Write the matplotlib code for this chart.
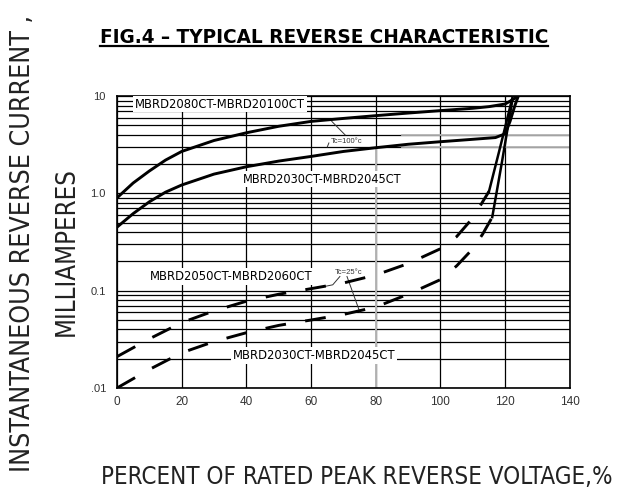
import os
import matplotlib
matplotlib.use("Agg")
import matplotlib.pyplot as plt
from matplotlib import font_manager
from matplotlib.font_manager import FontProperties
from matplotlib.ticker import LogLocator, NullFormatter

# ---------------- data ----------------
x_ticks = [0, 20, 40, 60, 80, 100, 120, 140]
x_tick_labels = ["0", "20", "40", "60", "80", "100", "120", "140"]
y_ticks = [0.01, 0.1, 1.0, 10.0]
y_tick_labels = [".01", "0.1", "1.0", "10"]

# Tc = 100 C, MBRD2080CT-MBRD20100CT
hot_hi_x = [0, 5, 10, 15, 20, 30, 40, 50, 60, 70, 80, 90, 100, 110, 115, 120, 123, 126]
hot_hi_y = [0.9, 1.28, 1.7, 2.2, 2.7, 3.5, 4.2, 4.9, 5.5, 5.9, 6.3, 6.7, 7.1, 7.5, 7.8, 8.3, 9.5, 11.5]

# Tc = 100 C, MBRD2030CT-MBRD2045CT
hot_lo_x = [0, 5, 10, 15, 20, 30, 40, 50, 60, 70, 80, 90, 100, 110, 117, 120, 121.5, 123, 124.5]
hot_lo_y = [0.45, 0.62, 0.82, 1.03, 1.22, 1.58, 1.88, 2.15, 2.4, 2.7, 2.95, 3.2, 3.4, 3.6, 3.75, 4.1, 5.5, 8.0, 11.0]

# Tc = 25 C, MBRD2050CT-MBRD2060CT
cold_hi_x = [0, 10, 20, 30, 40, 50, 60, 70, 80, 90, 100, 105, 110, 115, 118, 120, 122.5]
cold_hi_y = [0.021, 0.032, 0.047, 0.062, 0.078, 0.092, 0.105, 0.12, 0.145, 0.19, 0.27, 0.36, 0.56, 1.05, 2.6, 4.8, 10.5]

# Tc = 25 C, MBRD2030CT-MBRD2045CT
cold_lo_x = [0, 10, 20, 30, 40, 50, 60, 70, 80, 90, 100, 105, 110, 113, 116, 119, 122.2]
cold_lo_y = [0.01, 0.0155, 0.023, 0.03, 0.037, 0.044, 0.05, 0.057, 0.068, 0.092, 0.13, 0.18, 0.27, 0.38, 0.57, 2.1, 9.0]

label_hot_hi = "MBRD2080CT-MBRD20100CT"
label_hot_lo = "MBRD2030CT-MBRD2045CT"
label_cold_hi = "MBRD2050CT-MBRD2060CT"
label_cold_lo = "MBRD2030CT-MBRD2045CT"
tc_hot = "Tc=100°c"
tc_cold = "Tc=25°c"

title = "FIG.4 \u2013 TYPICAL REVERSE CHARACTERISTIC"
xlabel = "PERCENT OF RATED PEAK REVERSE VOLTAGE,%"
ylabel1 = "INSTANTANEOUS REVERSE CURRENT ,"
ylabel2 = "MILLIAMPERES"


# ---------------- fonts ----------------
def _isbold(f):
    w = f.weight
    if isinstance(w, str):
        return w in ("bold", "heavy", "black", "semibold", "demibold", "extra bold")
    return w >= 600


def _condensed(f):
    base = os.path.basename(f.fname).lower()
    return ("narrow" in base or "condensed" in base or "narrow" in f.name.lower()
            or "condensed" in f.name.lower() or str(f.stretch) in ("condensed", "semi-condensed"))


def find_font(bold):
    pref = ["liberation sans narrow", "liberation", "dejavu sans", "noto sans", "roboto", "open sans"]
    cands = [f for f in font_manager.fontManager.ttflist
             if _condensed(f) and _isbold(f) == bold and f.style == "normal"
             and "mono" not in f.name.lower() and "serif" not in f.name.lower().replace("sans", "")]
    for p in pref:
        for f in cands:
            if p in f.name.lower() or p.replace(" ", "") in os.path.basename(f.fname).lower():
                return FontProperties(fname=f.fname)
    if cands:
        return FontProperties(fname=cands[0].fname)
    return FontProperties(family=["Liberation Sans", "DejaVu Sans"], weight="bold" if bold else "normal")


FP_REG = find_font(False)
FP_BOLD = find_font(True)

plt.rcParams["font.family"] = ["Liberation Sans", "DejaVu Sans"]
plt.rcParams["lines.scale_dashes"] = False

fig = plt.figure(figsize=(6.29, 4.93), dpi=100)
ax = fig.add_axes([0.186, 0.213, 0.720, 0.592])
ax.set_yscale("log")
ax.set_xlim(0, 140)
ax.set_ylim(0.01, 10)
ax.set_xticks(x_ticks)
ax.set_xticklabels(x_tick_labels, fontsize=8.5, color="#333333")
ax.set_yticks(y_ticks)
ax.set_yticklabels(y_tick_labels, fontsize=8, color="#333333")
ax.yaxis.set_minor_locator(LogLocator(base=10, subs=range(2, 10)))
ax.yaxis.set_minor_formatter(NullFormatter())
ax.tick_params(which="both", length=0)
ax.tick_params(axis="x", pad=6)
ax.tick_params(axis="y", pad=8)
ax.grid(which="both", axis="y", color="black", lw=0.9, zorder=1)
ax.grid(which="major", axis="x", color="black", lw=0.9, zorder=1)
ax.set_axisbelow(True)
for s in ax.spines.values():
    s.set_linewidth(1.2)
    s.set_color("black")

# faint scan lines
ax.plot([80, 80], [0.01, 2.9], color="#b5b5b5", lw=1.4, zorder=1.5)
for yv in (3.0, 4.0):
    ax.plot([88, 140], [yv, yv], color="#b5b5b5", lw=1.3, zorder=1.5)

LW = 2.1
ax.plot(hot_hi_x, hot_hi_y, color="black", lw=LW, zorder=4, solid_capstyle="round")
ax.plot(hot_lo_x, hot_lo_y, color="black", lw=LW, zorder=4, solid_capstyle="round")

dash = (0, (15, 14))
for xs, ys, brk in ((cold_hi_x, cold_hi_y, 115), (cold_lo_x, cold_lo_y, 116)):
    k = xs.index(brk)
    ax.plot(xs[:k + 1], ys[:k + 1], color="black", lw=LW, ls=dash, zorder=4)
    ax.plot(xs[k:], ys[k:], color="black", lw=LW - 0.3, zorder=4)

box = dict(facecolor="white", edgecolor="none", pad=1.0)
curve_labels = [
    (label_hot_hi, 31.8, 8.3, 170),
    (label_hot_lo, 63.3, 1.4, 160),
    (label_cold_hi, 35.2, 0.14, 162),
    (label_cold_lo, 60.9, 0.0215, 162),
]
texts_to_fit = []
for s, xv, yv, w in curve_labels:
    t = ax.text(xv, yv, s, ha="center", va="center", fontproperties=FP_REG, fontsize=7,
                bbox=box, zorder=3)
    texts_to_fit.append((t, w))

# Tc annotations
ax.text(71, 3.4, tc_hot, ha="center", va="center", fontsize=5.5, color="#333333",
        bbox=dict(facecolor="white", edgecolor="none", pad=0.3), zorder=3)
ax.plot([66.4, 70.5], [5.5, 4.0], color="#333333", lw=0.7, zorder=3.5)
ax.plot([65.5, 65.0], [3.3, 3.0], color="#333333", lw=0.7, zorder=3.5)
ax.text(71.7, 0.154, tc_cold, ha="center", va="center", fontsize=5.5, color="#333333",
        bbox=dict(facecolor="white", edgecolor="none", pad=0.6), zorder=3)
ax.plot([68.9, 66.7, 62.1], [0.14, 0.115, 0.107], color="#333333", lw=0.7, zorder=3.5)
ax.plot([71.1, 75.1], [0.14, 0.060], color="#333333", lw=0.7, zorder=3.5)

# Titles / axis labels
t_title = fig.text(324 / 629, 1 - 43 / 493, title, ha="center", va="baseline",
                   fontproperties=FP_BOLD, fontsize=16)
t_x = fig.text(357 / 629, 1 - 484 / 493, xlabel, ha="center", va="baseline",
               fontproperties=FP_REG, fontsize=18, color="#222222")
t_y1 = fig.text(23 / 629, 1 - 243 / 493, ylabel1, ha="center", va="center", rotation=90,
                fontproperties=FP_REG, fontsize=16, color="#222222")
t_y2 = fig.text(67 / 629, 1 - 252 / 493, ylabel2, ha="center", va="center", rotation=90,
                fontproperties=FP_REG, fontsize=16, color="#222222")

fig.canvas.draw()
r = fig.canvas.get_renderer()


def fit(t, target, vertical=False):
    bb = t.get_window_extent(r)
    cur = bb.height if vertical else bb.width
    t.set_fontsize(t.get_fontsize() * target / cur)


fit(t_title, 448)
fit(t_x, 513)
fit(t_y1, 460, vertical=True)
fit(t_y2, 170, vertical=True)
for t, w in texts_to_fit:
    fit(t, w)

fig.canvas.draw()
bb = t_title.get_window_extent(r)
fig.add_artist(plt.Line2D([bb.x0 / 629, bb.x1 / 629], [1 - 46 / 493, 1 - 46 / 493],
                          color="black", lw=1.6, transform=fig.transFigure))

fig.savefig("out.png", dpi=100)
